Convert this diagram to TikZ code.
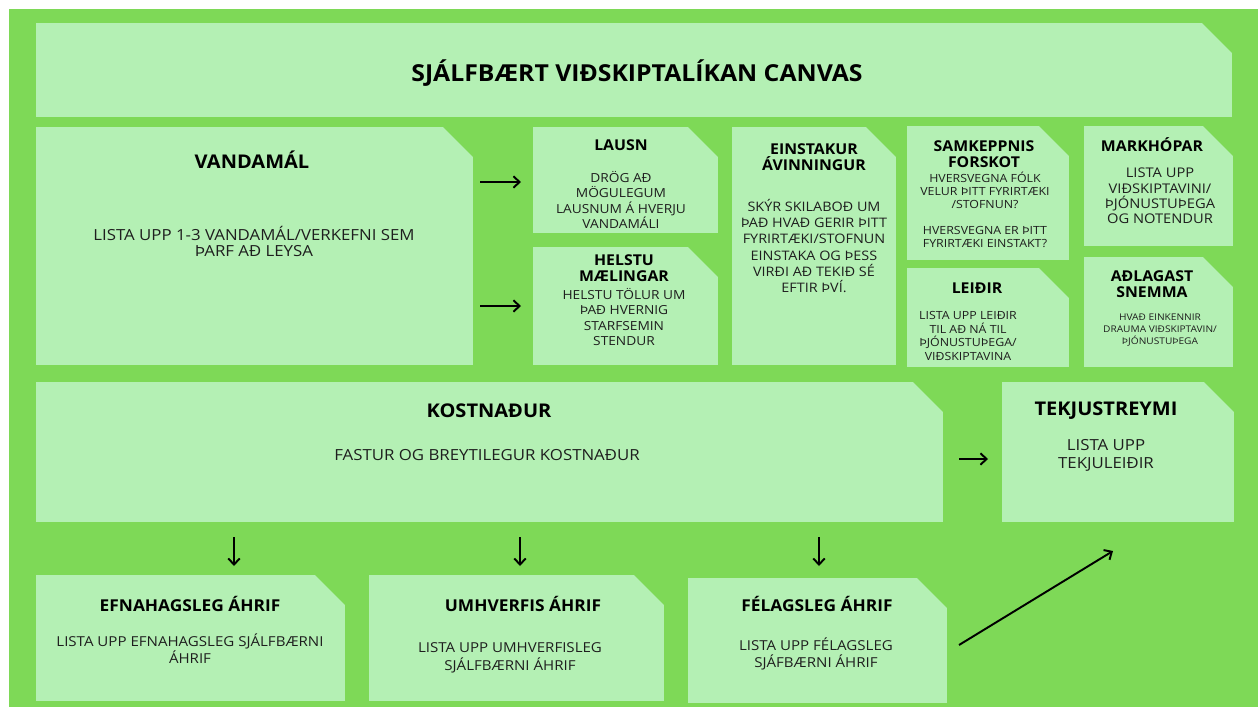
\documentclass[tikz,border=0pt]{standalone}
\usepackage{fontspec}
\setmainfont{Open Sans}
\newfontfamily\headfont{Open Sans}[FakeStretch=1.06]
\newfontfamily\bodyfont{Open Sans}[FakeStretch=1.1]
\usetikzlibrary{fit,arrows.meta}
\definecolor{bggreen}{RGB}{126,217,87}
\definecolor{cardgreen}{RGB}{180,240,180}
\definecolor{inkgrey}{RGB}{30,30,30}

\tikzset{
  card/.style={fill=cardgreen, inner sep=0pt, path picture={
      \fill[bggreen] ([xshift=-17pt]path picture bounding box.north east)
        -- ([xshift=1pt,yshift=1pt]path picture bounding box.north east)
        -- ([yshift=-17pt]path picture bounding box.north east) -- cycle;}},
  bighead/.style={font=\headfont\bfseries\fontsize{10.75}{12}\selectfont, align=center, inner sep=0pt},
  lowhead/.style={font=\headfont\bfseries\fontsize{9.3}{11}\selectfont, align=center, inner sep=0pt},
  smallhead/.style={font=\headfont\bfseries\fontsize{8.5}{9}\selectfont, align=center, inner sep=0pt},
  bodyL/.style={font=\bodyfont\fontsize{8.7}{9.1}\selectfont, text=inkgrey, align=center, inner sep=0pt},
  bodyM/.style={font=\bodyfont\fontsize{7.1}{8.7}\selectfont, text=inkgrey, align=center, inner sep=0pt},
  bodyS/.style={font=\bodyfont\fontsize{6.4}{7.2}\selectfont, text=inkgrey, align=center, inner sep=0pt},
  bodyXS/.style={font=\bodyfont\fontsize{5.25}{6.8}\selectfont, text=inkgrey, align=center, inner sep=0pt},
  flow/.style={line width=1.1pt, -{Straight Barb[length=3.5pt,width=6.5pt]}}
}

\begin{document}
\begin{tikzpicture}[x=0.02cm, y=-0.02cm]
  \useasboundingbox (0,0) rectangle (1258,707);
  \fill[white] (0,0) rectangle (1258,707);
  \fill[bggreen] (9,9) rectangle (1258,707);

  % cards
  \node[card, fit={(36,23) (1232,117)}] (titlecard) {};
  \node[card, fit={(36,127) (473,365)}] (vandamal) {};
  \node[card, fit={(533,127) (718,233)}] (lausn) {};
  \node[card, fit={(533,247) (718,365)}] (maelingar) {};
  \node[card, fit={(732,127) (896,365)}] (avinningur) {};
  \node[card, fit={(907,126) (1069,260)}] (forskot) {};
  \node[card, fit={(907,268) (1069,367)}] (leidir) {};
  \node[card, fit={(1084,126) (1233,246)}] (markhopar) {};
  \node[card, fit={(1084,257) (1233,367)}] (adlagast) {};
  \node[card, fit={(36,382) (943,522)}] (kostnadur) {};
  \node[card, fit={(1002,382) (1234,522)}] (tekjur) {};
  \node[card, fit={(36,575) (345,701)}] (efnahags) {};
  \node[card, fit={(369,575) (664,701)}] (umhverfis) {};
  \node[card, fit={(688,578) (947,703)}] (felags) {};

  % texts
  \node[font=\headfont\bfseries\fontsize{13.3}{15}\selectfont, inner sep=0pt] (titletext) at (637,73) {SJÁLFBÆRT VIÐSKIPTALÍKAN CANVAS};

  \node[bighead] (vandamalT) at (252,160) {VANDAMÁL};
  \node[bodyL] (vandamalB) at (254,241) {LISTA UPP 1-3 VANDAMÁL/VERKEFNI SEM\\ÞARF AÐ LEYSA};

  \node[smallhead] (lausnT) at (621,145) {LAUSN};
  \node[bodyM] (lausnB) at (621,200) {DRÖG AÐ\\MÖGULEGUM\\LAUSNUM Á HVERJU\\VANDAMÁLI};

  \node[smallhead] (maelingarT) at (624,268) {HELSTU\\MÆLINGAR};
  \node[bodyM] (maelingarB) at (624,317) {HELSTU TÖLUR UM\\ÞAÐ HVERNIG\\STARFSEMIN\\STENDUR};

  \node[smallhead] (avinningurT) at (814,157) {EINSTAKUR\\ÁVINNINGUR};
  \node[bodyM, font=\bodyfont\fontsize{7.45}{9.2}\selectfont] (avinningurB) at (814,246) {SKÝR SKILABOÐ UM\\ÞAÐ HVAÐ GERIR ÞITT\\FYRIRTÆKI/STOFNUN\\EINSTAKA OG ÞESS\\VIRÐI AÐ TEKIÐ SÉ\\EFTIR ÞVÍ.};

  \node[smallhead] (forskotT) at (984,154) {SAMKEPPNIS\\FORSKOT};
  \node[bodyS] (forskotB) at (985,210) {HVERSVEGNA FÓLK\\VELUR ÞITT FYRIRTÆKI\\/STOFNUN?\\[8pt]HVERSVEGNA ER ÞITT\\FYRIRTÆKI EINSTAKT?};

  \node[smallhead] (leidirT) at (977,288) {LEIÐIR};
  \node[bodyS, font=\bodyfont\fontsize{6.4}{7.9}\selectfont] (leidirB) at (968,336) {LISTA UPP LEIÐIR\\TIL AÐ NÁ TIL\\ÞJÓNUSTUÞEGA/\\VIÐSKIPTAVINA};

  \node[smallhead] (markhoparT) at (1152,145) {MARKHÓPAR};
  \node[bodyM, font=\bodyfont\fontsize{7.6}{8.8}\selectfont] (markhoparB) at (1160,196) {LISTA UPP\\VIÐSKIPTAVINI/\\ÞJÓNUSTUÞEGA\\OG NOTENDUR};

  \node[smallhead] (adlagastT) at (1152,284) {AÐLAGAST\\SNEMMA};
  \node[bodyXS] (adlagastB) at (1160,330) {HVAÐ EINKENNIR\\DRAUMA VIÐSKIPTAVIN/\\ÞJÓNUSTUÞEGA};

  \node[bighead] (kostnadurT) at (489,411) {KOSTNAÐUR};
  \node[bodyL] (kostnadurB) at (487,455) {FASTUR OG BREYTILEGUR KOSTNAÐUR};

  \node[bighead] (tekjurT) at (1106,411) {TEKJUSTREYMI};
  \node[bodyL, font=\bodyfont\fontsize{8.7}{10.2}\selectfont] (tekjurB) at (1106,455) {LISTA UPP\\TEKJULEIÐIR};

  \node[lowhead] (efnahagsT) at (190,604) {EFNAHAGSLEG ÁHRIF};
  \node[bodyL, font=\bodyfont\fontsize{7.8}{8.6}\selectfont] (efnahagsB) at (190,649) {LISTA UPP EFNAHAGSLEG SJÁLFBÆRNI\\ÁHRIF};

  \node[lowhead] (umhverfisT) at (523,604) {UMHVERFIS ÁHRIF};
  \node[bodyL, font=\bodyfont\fontsize{7.8}{10}\selectfont] (umhverfisB) at (510,658) {LISTA UPP UMHVERFISLEG\\SJÁLFBÆRNI ÁHRIF};

  \node[lowhead] (felagsT) at (817,604) {FÉLAGSLEG ÁHRIF};
  \node[bodyL, font=\bodyfont\fontsize{7.8}{9.6}\selectfont] (felagsB) at (816,654) {LISTA UPP FÉLAGSLEG\\SJÁFBÆRNI ÁHRIF};

  % arrow ends
  \coordinate (upS) at (480,182);   \coordinate (upE) at (521,182);
  \coordinate (loS) at (480,306);   \coordinate (loE) at (521,306);
  \coordinate (kS)  at (959,459);   \coordinate (kE)  at (988,459);
  \coordinate (d1S) at (234,537);   \coordinate (d1E) at (234,566);
  \coordinate (d2S) at (520,537);   \coordinate (d2E) at (520,566);
  \coordinate (d3S) at (819,537);   \coordinate (d3E) at (819,566);
  \coordinate (gS)  at (959,645);   \coordinate (gE)  at (1113,551);

  \draw[flow] (upS) -- (upE);
  \draw[flow] (loS) -- (loE);
  \draw[flow] (kS) -- (kE);
  \draw[flow] (d1S) -- (d1E);
  \draw[flow] (d2S) -- (d2E);
  \draw[flow] (d3S) -- (d3E);
  \draw[flow] (gS) -- (gE);
\end{tikzpicture}
\end{document}
